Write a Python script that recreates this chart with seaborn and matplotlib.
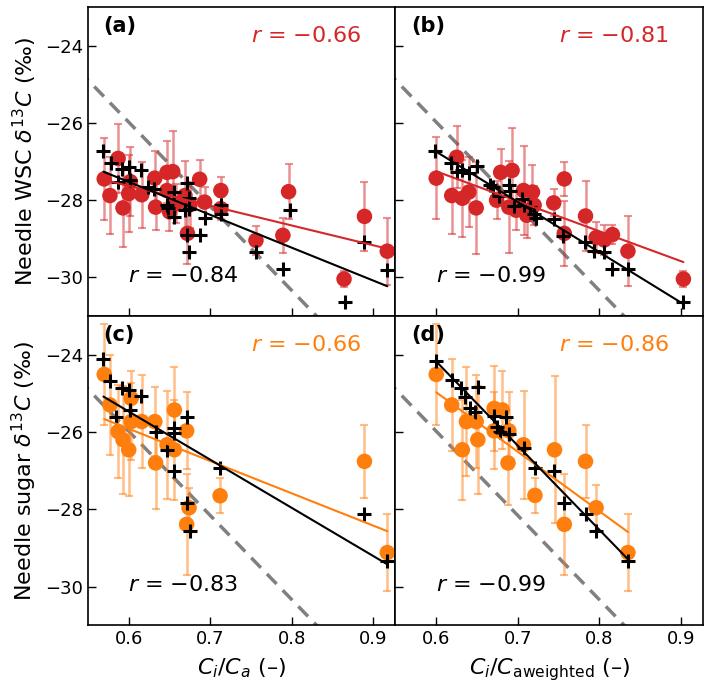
import numpy as np
import matplotlib
matplotlib.use('Agg')
import matplotlib.pyplot as plt
import seaborn as sns

# ---- panel (a): needle WSC vs Ci/Ca ----
a_x = [0.570, 0.577, 0.587, 0.593, 0.600, 0.602, 0.616, 0.632, 0.633, 0.647,
       0.654, 0.647, 0.650, 0.658, 0.669, 0.672, 0.675, 0.687, 0.693, 0.713,
       0.713, 0.756, 0.789, 0.796, 0.864, 0.889, 0.917]
a_y = [-27.45, -27.88, -26.92, -28.20, -27.83, -27.52, -27.86, -27.43, -28.18, -27.28,
       -27.26, -27.75, -28.30, -28.09, -27.88, -28.86, -28.12, -27.46, -28.05, -27.75,
       -28.22, -29.04, -28.91, -27.78, -30.04, -28.42, -29.32]
a_err = [1.07, 1.0, 0.9, 1.0, 1.0, 0.9, 0.85, 0.7, 0.6, 0.8,
         1.05, 0.5, 0.5, 0.5, 0.9, 0.8, 0.6, 0.5, 0.4, 0.35,
         0.3, 0.38, 0.46, 0.72, 0.2, 0.9, 0.87]
a_mx = [0.569, 0.578, 0.587, 0.592, 0.600, 0.602, 0.615, 0.624, 0.631, 0.647,
        0.648, 0.655, 0.656, 0.669, 0.671, 0.674, 0.674, 0.672, 0.674, 0.687,
        0.693, 0.713, 0.713, 0.756, 0.798, 0.789, 0.865, 0.889, 0.917]
a_my = [-26.72, -27.04, -27.52, -27.19, -27.15, -27.49, -27.23, -27.66, -27.70, -28.12,
        -28.20, -27.79, -28.43, -28.26, -27.56, -27.95, -28.23, -28.90, -29.33, -28.90,
        -28.46, -28.12, -28.37, -29.33, -28.26, -29.78, -30.64, -29.08, -29.81]

# ---- panel (b): needle WSC vs Ci/Ca weighted ----
b_x = [0.600, 0.625, 0.619, 0.632, 0.640, 0.649, 0.674, 0.679, 0.693, 0.689,
       0.698, 0.707, 0.711, 0.718, 0.720, 0.744, 0.757, 0.757, 0.783, 0.796,
       0.806, 0.816, 0.835, 0.903]
b_y = [-27.43, -26.89, -27.88, -27.95, -27.79, -28.20, -28.00, -27.28, -27.23, -28.18,
       -28.26, -27.75, -28.39, -27.79, -28.13, -28.07, -27.45, -28.86, -28.41, -28.97,
       -29.03, -28.89, -29.32, -30.04]
b_err = [1.07, 0.8, 1.0, 1.0, 0.9, 1.2, 0.5, 0.6, 1.1, 1.2,
         0.5, 1.15, 0.6, 0.7, 0.5, 0.35, 0.45, 0.85, 0.9, 0.4,
         0.4, 0.25, 0.9, 0.2]
b_mx = [0.599, 0.618, 0.625, 0.632, 0.640, 0.650, 0.666, 0.670, 0.677, 0.689,
        0.691, 0.695, 0.705, 0.707, 0.715, 0.720, 0.722, 0.744, 0.756, 0.782,
        0.794, 0.806, 0.816, 0.835, 0.902]
b_my = [-26.74, -27.04, -27.26, -27.23, -27.29, -27.12, -27.62, -27.66, -27.88, -27.62,
        -27.77, -28.15, -27.96, -28.13, -28.18, -28.35, -28.46, -28.48, -28.92, -29.09,
        -29.32, -29.33, -29.78, -29.78, -30.64]

# ---- panel (c): needle sugar vs Ci/Ca ----
c_x = [0.570, 0.577, 0.587, 0.593, 0.600, 0.603, 0.603, 0.616, 0.632, 0.633,
       0.647, 0.656, 0.656, 0.671, 0.674, 0.671, 0.712, 0.889, 0.917]
c_y = [-24.51, -25.30, -25.99, -26.20, -26.46, -25.13, -25.73, -25.73, -25.73, -26.80,
       -26.33, -25.43, -26.46, -25.97, -27.96, -28.39, -27.65, -26.76, -29.12]
c_err = [1.3, 1.3, 1.2, 1.4, 1.2, 0.7, 1.0, 1.2, 0.9, 1.2,
         1.4, 1.1, 1.3, 1.0, 0.5, 1.3, 0.45, 0.95, 1.0]
c_mx = [0.569, 0.577, 0.592, 0.600, 0.615, 0.585, 0.602, 0.634, 0.647, 0.656,
        0.656, 0.655, 0.671, 0.671, 0.675, 0.712, 0.889, 0.917]
c_my = [-24.12, -24.69, -24.86, -24.92, -25.06, -25.60, -25.43, -25.99, -26.46, -25.89,
        -26.03, -27.02, -25.60, -27.83, -28.56, -26.92, -28.13, -29.35]

# ---- panel (d): needle sugar vs Ci/Ca weighted ----
d_x = [0.600, 0.619, 0.632, 0.637, 0.649, 0.651, 0.671, 0.681, 0.671, 0.689,
       0.688, 0.707, 0.721, 0.745, 0.757, 0.783, 0.796, 0.835]
d_y = [-24.51, -25.30, -26.46, -25.73, -25.73, -26.20, -25.39, -25.43, -25.97, -25.97,
       -26.80, -26.33, -27.64, -26.46, -28.39, -26.76, -27.96, -29.12]
d_err = [1.3, 1.2, 1.3, 1.4, 1.2, 1.4, 1.1, 1.0, 1.0, 1.0,
         1.1, 1.4, 0.45, 1.9, 1.3, 0.95, 0.6, 1.0]
d_mx = [0.600, 0.619, 0.630, 0.635, 0.651, 0.642, 0.648, 0.671, 0.686, 0.674,
        0.678, 0.689, 0.707, 0.721, 0.744, 0.757, 0.783, 0.796, 0.835]
d_my = [-24.15, -24.66, -24.87, -25.09, -24.83, -25.39, -25.48, -25.58, -25.60, -25.86,
        -25.99, -26.06, -26.42, -26.93, -27.02, -27.83, -28.13, -28.55, -29.35]

# r values written in the panels
r_data = ['\u22120.66', '\u22120.81', '\u22120.66', '\u22120.86']
r_model = ['\u22120.84', '\u22120.99', '\u22120.83', '\u22120.99']
letters = ['(a)', '(b)', '(c)', '(d)']

# theoretical line (dashed grey)
theory_x = [0.50, 0.95]
theory_slope = -21.8
theory_icpt = -12.9

RED = '#d62728'
ORANGE = '#ff7f0e'

sns.set_style('ticks')
plt.rcParams['font.family'] = ['DejaVu Sans']
plt.rcParams['text.color'] = 'black'
plt.rcParams['axes.labelcolor'] = 'black'
plt.rcParams['xtick.color'] = 'black'
plt.rcParams['ytick.color'] = 'black'

fig, axes = plt.subplots(2, 2, figsize=(7.09, 6.97), dpi=100, sharex=True, sharey=True)
fig.subplots_adjust(left=0.124, right=0.9915, top=0.99, bottom=0.103, wspace=0, hspace=0)

panels = [
    (a_x, a_y, a_err, a_mx, a_my, RED),
    (b_x, b_y, b_err, b_mx, b_my, RED),
    (c_x, c_y, c_err, c_mx, c_my, ORANGE),
    (d_x, d_y, d_err, d_mx, d_my, ORANGE),
]

for i, ax in enumerate(axes.flat):
    x, y, err, mx, my, col = panels[i]

    tx = np.array(theory_x)
    ax.plot(tx, theory_icpt + theory_slope * tx, ls='--', color='grey', lw=2.5,
            dashes=(4, 2.5), zorder=1)

    ax.errorbar(x, y, yerr=err, fmt='none', ecolor=col, alpha=0.5,
                elinewidth=1.8, capsize=3, capthick=1.5, zorder=2)
    sns.scatterplot(x=x, y=y, ax=ax, color=col, s=125, edgecolor='none', zorder=3)
    sns.scatterplot(x=mx, y=my, ax=ax, color='black', marker='+', s=110,
                    linewidth=2.2, zorder=4)

    sns.regplot(x=x, y=y, ax=ax, scatter=False, ci=None, color=col,
                line_kws={'lw': 1.5, 'zorder': 5})
    sns.regplot(x=mx, y=my, ax=ax, scatter=False, ci=None, color='black',
                line_kws={'lw': 1.5, 'zorder': 5})

    ax.text(0.05, 0.94, letters[i], transform=ax.transAxes, fontsize=15,
            fontweight='bold', va='center', ha='left')
    ax.text(0.71, 0.905, '$r$ = ' + r_data[i], transform=ax.transAxes,
            fontsize=16, color=col, va='center', ha='center')
    ax.text(0.31, 0.13, '$r$ = ' + r_model[i], transform=ax.transAxes,
            fontsize=16, color='black', va='center', ha='center')

    ax.tick_params(direction='in', length=6, width=1, labelsize=13)
    for sp in ax.spines.values():
        sp.set_visible(True)
        sp.set_linewidth(1.2)
        sp.set_color('black')

axes[0, 0].set_xlim(0.55, 0.927)
axes[0, 0].set_ylim(-31, -23)
axes[0, 0].set_xticks([0.6, 0.7, 0.8, 0.9])
axes[0, 0].set_yticks([-24, -26, -28, -30])

axes[0, 0].set_ylabel('Needle WSC $\\delta^{13}C$ (\u2030)', fontsize=16)
axes[1, 0].set_ylabel('Needle sugar $\\delta^{13}C$ (\u2030)', fontsize=16)
axes[1, 0].set_xlabel('$C_i/C_a$ (\u2013)', fontsize=16, labelpad=6)
axes[1, 1].set_xlabel('$C_i/C_{\\mathrm{aweighted}}$ (\u2013)', fontsize=16, labelpad=6)
for ax in axes.flat:
    ax.set_xticklabels(['0.6', '0.7', '0.8', '0.9'])

plt.savefig('out.png', dpi=100)
plt.close()
